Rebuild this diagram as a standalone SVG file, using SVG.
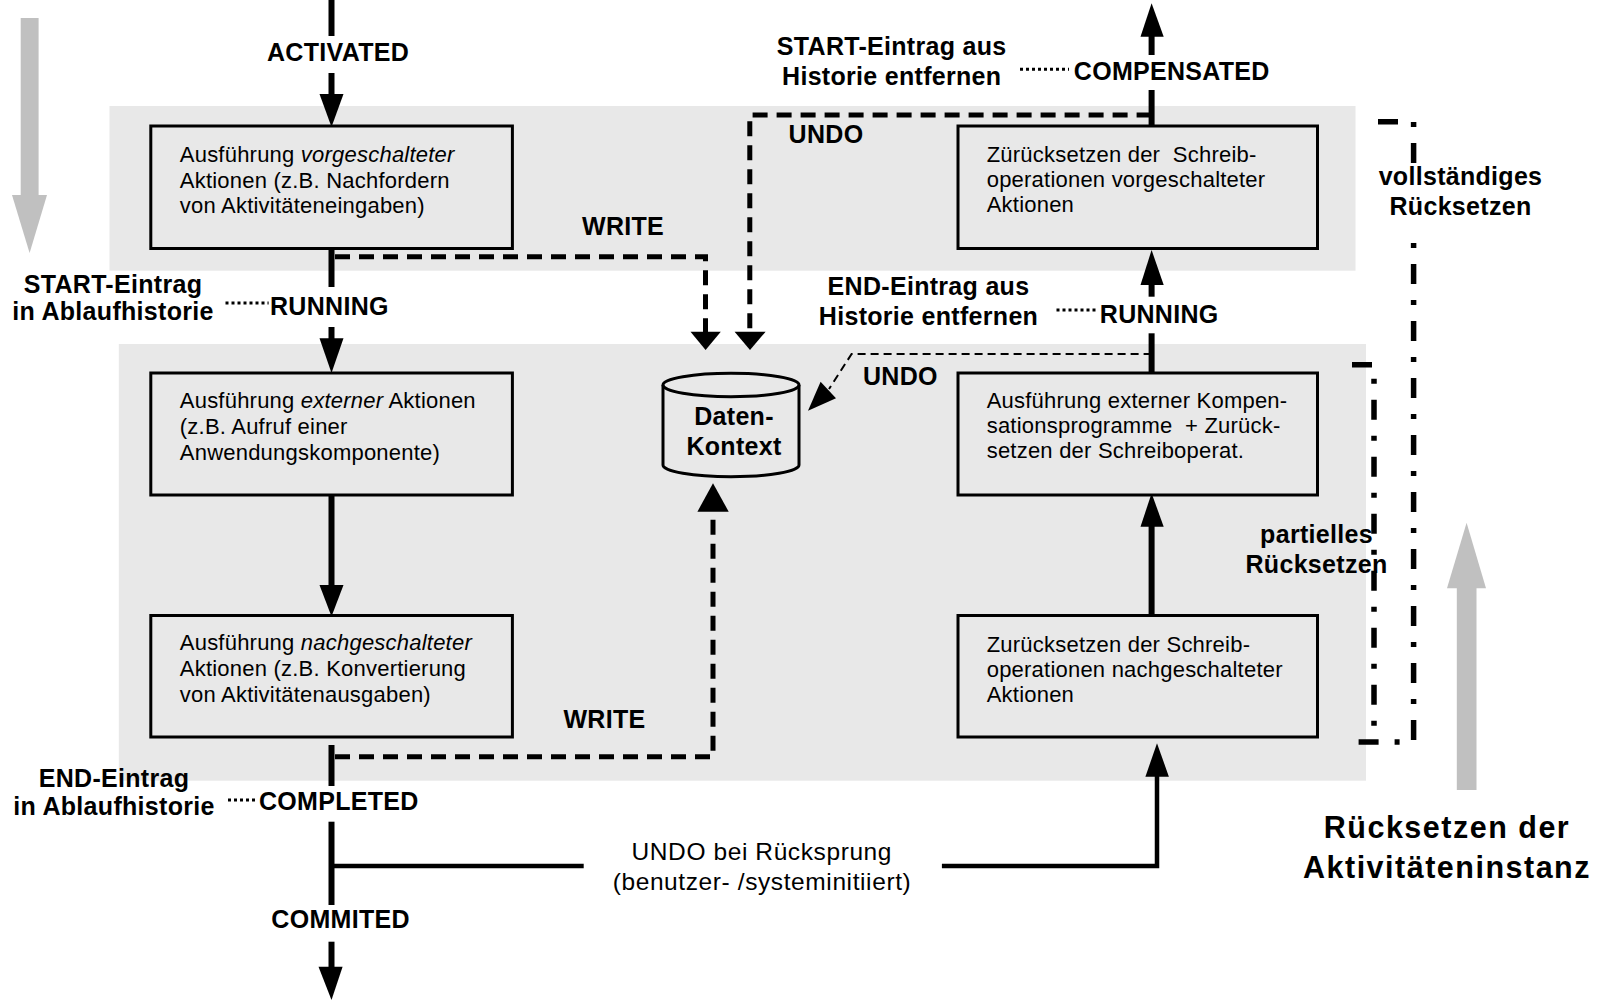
<svg xmlns="http://www.w3.org/2000/svg" width="1602" height="1000" viewBox="0 0 1602 1000">
  <style>
    .band { fill: #e8e8e8; }
    .box { fill: #e8e8e8; stroke: #000; stroke-width: 3; }
    .flow { fill: none; stroke: #000; stroke-width: 6; }
    .thin { fill: none; stroke: #000; stroke-width: 4.5; }
    .dash { fill: none; stroke: #000; stroke-width: 5; stroke-dasharray: 15 9; }
    .dash-thin { fill: none; stroke: #000; stroke-width: 2; stroke-dasharray: 8 5; }
    .dot { fill: none; stroke: #000; stroke-width: 3; stroke-dasharray: 3 3; }
    .dashdot { fill: none; stroke: #000; stroke-width: 5.5; stroke-dasharray: 20 16 5 16; }
    .dotdash { fill: none; stroke: #000; stroke-width: 5.5; stroke-dasharray: 5 16 20 16; }
    .head { fill: #000; }
    .grey { fill: #c0c0c0; }
    text { font-family: "Liberation Sans", Arial, Helvetica, sans-serif; fill: #000; }
    .lbl { font-size: 25px; font-weight: bold; letter-spacing: 0.3px; }
    .mid { text-anchor: middle; }
    .bt { font-size: 22px; letter-spacing: 0.22px; white-space: pre; }
    .note { font-size: 24.5px; letter-spacing: 0.6px; text-anchor: middle; }
    .big { font-size: 30.5px; font-weight: bold; letter-spacing: 1.5px; text-anchor: middle; }
    .it { font-style: italic; }
  </style>

  <!-- background panels -->
  <g id="panels">
    <rect class="band" x="109.5" y="106" width="1246" height="164.7"/>
    <rect class="band" x="118.8" y="344" width="1247.2" height="436.7"/>
  </g>

  <!-- direction indicators -->
  <g id="forward-indicator">
    <rect class="grey" x="20.7" y="18" width="17.9" height="177.5"/>
    <polygon class="grey" points="12,195 47,195 29.6,253"/>
  </g>
  <g id="reset-indicator">
    <rect class="grey" x="1456.8" y="588" width="19.7" height="202"/>
    <polygon class="grey" points="1447,588.3 1486,588.3 1466.6,522.7"/>
    <text class="big" x="1447" y="838.3">Rücksetzen der</text>
    <text class="big" x="1447" y="878.3">Aktivitäteninstanz</text>
  </g>

  <!-- connectors -->
  <g id="connectors">
    <!-- forward flow, left column -->
    <line class="flow" x1="331.5" y1="0" x2="331.5" y2="36"/>
    <line class="flow" x1="331.5" y1="73" x2="331.5" y2="95"/>
    <polygon class="head" points="319.5,94 343.5,94 331.5,127"/>
    <line class="flow" x1="331.5" y1="248" x2="331.5" y2="287"/>
    <line class="flow" x1="331.5" y1="327" x2="331.5" y2="339"/>
    <polygon class="head" points="319.5,338.3 343.5,338.3 331.5,373"/>
    <line class="flow" x1="331.5" y1="495" x2="331.5" y2="586"/>
    <polygon class="head" points="319.5,585 343.5,585 331.5,616.5"/>
    <line class="flow" x1="331.5" y1="745" x2="331.5" y2="786"/>
    <line class="flow" x1="331.5" y1="821.7" x2="331.5" y2="905"/>
    <line class="flow" x1="331.5" y1="941.7" x2="331.5" y2="968"/>
    <polygon class="head" points="318.5,966.7 342.6,966.7 331.5,1000"/>

    <!-- backward flow, right column -->
    <line class="flow" x1="1151.6" y1="126" x2="1151.6" y2="90"/>
    <line class="flow" x1="1151.6" y1="55" x2="1151.6" y2="35"/>
    <polygon class="head" points="1140.5,36.7 1163.7,36.7 1151.6,3.3"/>
    <line class="flow" x1="1151.6" y1="373" x2="1151.6" y2="333.3"/>
    <line class="flow" x1="1151.6" y1="296.7" x2="1151.6" y2="284"/>
    <polygon class="head" points="1140.5,285 1163.7,285 1151.6,250"/>
    <line class="flow" x1="1151.6" y1="615.5" x2="1151.6" y2="525"/>
    <polygon class="head" points="1140.5,526.7 1163.7,526.7 1151.6,493.3"/>

    <!-- undo on jump back -->
    <path class="thin" d="M331.5,866 H583.7"/>
    <path class="thin" d="M941.9,866 H1157 V775"/>
    <polygon class="head" points="1145.4,776.7 1168.9,776.7 1157,743.3"/>

    <!-- write accesses to the data context -->
    <path class="dash" d="M335,256.7 H705.5 V333"/>
    <polygon class="head" points="690.5,331.7 720.8,331.7 705.6,350"/>
    <path class="dash" d="M335,756.7 H713 V511"/>
    <polygon class="head" points="697.4,511.7 728.7,511.7 713,483.3"/>

    <!-- undo accesses to the data context -->
    <path class="dash" d="M1151.6,115 H749.8 V333"/>
    <polygon class="head" points="734.6,331.7 765.6,331.7 750,350"/>
    <path class="dash-thin" d="M1151.6,354 H851.6 L829,389"/>
    <polygon class="head" points="836,398.3 820.6,381.7 808,410.7"/>

    <!-- history entries -->
    <line class="dot" x1="225.5" y1="303" x2="268.6" y2="303"/>
    <line class="dot" x1="228" y1="800" x2="258" y2="800"/>
    <line class="dot" x1="1020" y1="69.3" x2="1069" y2="69.3"/>
    <line class="dot" x1="1056.5" y1="310" x2="1098" y2="310"/>

    <!-- reset scopes: full (interrupted by its label) and partial -->
    <path class="dashdot" d="M1378,121.7 H1413.6 V166"/>
    <path class="dotdash" d="M1413.6,243 V742 H1350"/>
    <path class="dashdot" d="M1352,364.7 H1374 V742"/>
  </g>

  <!-- states -->
  <g id="state-activated"><text class="lbl" x="267" y="61">ACTIVATED</text></g>
  <g id="state-running"><text class="lbl" x="270" y="315">RUNNING</text></g>
  <g id="state-completed"><text class="lbl" x="259" y="810">COMPLETED</text></g>
  <g id="state-commited"><text class="lbl" x="271.3" y="928.3">COMMITED</text></g>
  <g id="state-running-back"><text class="lbl" x="1099.8" y="323.3">RUNNING</text></g>
  <g id="state-compensated"><text class="lbl" x="1073.8" y="80">COMPENSATED</text></g>

  <!-- history notes -->
  <g id="note-start">
    <text class="lbl mid" x="113" y="293">START-Eintrag</text>
    <text class="lbl mid" x="113" y="320">in Ablaufhistorie</text>
  </g>
  <g id="note-end">
    <text class="lbl mid" x="114" y="786.7">END-Eintrag</text>
    <text class="lbl mid" x="114" y="815">in Ablaufhistorie</text>
  </g>
  <g id="note-start-remove">
    <text class="lbl mid" x="891.7" y="55">START-Eintrag aus</text>
    <text class="lbl mid" x="891.7" y="85">Historie entfernen</text>
  </g>
  <g id="note-end-remove">
    <text class="lbl mid" x="928.5" y="295">END-Eintrag aus</text>
    <text class="lbl mid" x="928.5" y="325">Historie entfernen</text>
  </g>

  <!-- access labels -->
  <g id="access-labels">
    <text class="lbl" x="582" y="235">WRITE</text>
    <text class="lbl" x="563.4" y="728.3">WRITE</text>
    <text class="lbl" x="788.6" y="143.3">UNDO</text>
    <text class="lbl" x="863" y="385">UNDO</text>
  </g>

  <g id="undo-jump-label">
    <text class="note" x="761.8" y="860">UNDO bei Rücksprung</text>
    <text class="note" x="762" y="890">(benutzer- /systeminitiiert)</text>
  </g>

  <g id="scope-labels">
    <text class="lbl mid" x="1460.5" y="185">vollständiges</text>
    <text class="lbl mid" x="1460.5" y="215">Rücksetzen</text>
    <text class="lbl mid" x="1316.5" y="543.3">partielles</text>
    <text class="lbl mid" x="1316.5" y="573.3">Rücksetzen</text>
  </g>

  <!-- activity steps -->
  <g id="box-pre">
    <rect class="box" x="150.8" y="126" width="361.6" height="122.5"/>
    <text class="bt" x="179.8" y="162.3">Ausführung <tspan class="it">vorgeschalteter</tspan></text>
    <text class="bt" x="179.8" y="188.3">Aktionen (z.B. Nachfordern</text>
    <text class="bt" x="179.8" y="213.3">von Aktivitäteneingaben)</text>
  </g>
  <g id="box-ext">
    <rect class="box" x="150.8" y="373" width="361.6" height="122"/>
    <text class="bt" x="179.8" y="408.3">Ausführung <tspan class="it">externer</tspan> Aktionen</text>
    <text class="bt" x="179.8" y="434">(z.B. Aufruf einer</text>
    <text class="bt" x="179.8" y="460">Anwendungskomponente)</text>
  </g>
  <g id="box-post">
    <rect class="box" x="150.8" y="615.5" width="361.6" height="121.5"/>
    <text class="bt" x="179.8" y="650">Ausführung <tspan class="it">nachgeschalteter</tspan></text>
    <text class="bt" x="179.8" y="675.7">Aktionen (z.B. Konvertierung</text>
    <text class="bt" x="179.8" y="701.5">von Aktivitätenausgaben)</text>
  </g>
  <g id="box-undo-pre">
    <rect class="box" x="958" y="126" width="359.5" height="122.5"/>
    <text class="bt" x="986.7" y="162">Zürücksetzen der  Schreib-</text>
    <text class="bt" x="986.7" y="187">operationen vorgeschalteter</text>
    <text class="bt" x="986.7" y="212">Aktionen</text>
  </g>
  <g id="box-compensation">
    <rect class="box" x="958" y="373" width="359.5" height="122"/>
    <text class="bt" x="986.7" y="407.5">Ausführung externer Kompen-</text>
    <text class="bt" x="986.7" y="432.5">sationsprogramme  + Zurück-</text>
    <text class="bt" x="986.7" y="457.5">setzen der Schreiboperat.</text>
  </g>
  <g id="box-undo-post">
    <rect class="box" x="958" y="615.5" width="359.5" height="121.5"/>
    <text class="bt" x="986.7" y="652">Zurücksetzen der Schreib-</text>
    <text class="bt" x="986.7" y="677">operationen nachgeschalteter</text>
    <text class="bt" x="986.7" y="702">Aktionen</text>
  </g>

  <!-- data context store -->
  <g id="store">
    <path class="box" d="M663,385 A68,11.7 0 0 1 799,385 V465 A68,11.7 0 0 1 663,465 Z"/>
    <path fill="none" stroke="#000" stroke-width="3" d="M663,385 A68,11.7 0 0 0 799,385"/>
    <text class="lbl mid" x="734" y="425">Daten-</text>
    <text class="lbl mid" x="734" y="455">Kontext</text>
  </g>
</svg>
